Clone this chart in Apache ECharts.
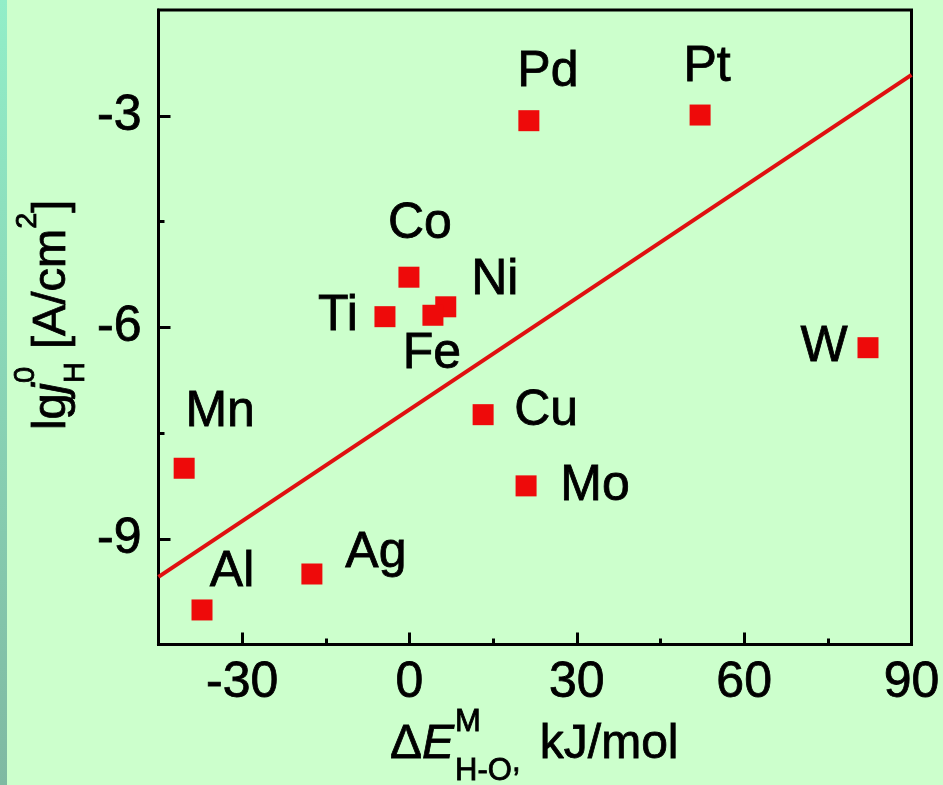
<!DOCTYPE html>
<html>
<head>
<meta charset="utf-8">
<script src="https://cdn.jsdelivr.net/npm/echarts@6/dist/echarts.min.js"></script>
<style>
html,body{margin:0;padding:0;background:#ccffcc;}
#chart{width:943px;height:785px;}
</style>
</head>
<body>
<div id="chart"></div>
<script>
// ---- data ----
const elements = ['Pd', 'Pt', 'Co', 'Ni', 'Fe', 'Ti', 'Cu', 'Mo', 'W', 'Mn', 'Al', 'Ag'];
const deltaE = [21.4, 52.1, -0.1, 6.5, 4.2, -4.4, 13.2, 20.9, 82.2, -40.4, -37.2, -17.5];
const lgJ = [-3.07, -2.99, -5.29, -5.71, -5.83, -5.85, -7.24, -8.25, -6.29, -8.0, -10.01, -9.5];
const fitX = [-45, 90];
const fitY = [-9.54, -2.42];
const xTickLabels = [-30, 0, 30, 60, 90];
const xMajorTicks = [-30, 0, 30, 60];
const xMinorTicks = [-15, 15, 45, 75];
const yTickLabels = [-3, -6, -9];
const yMinorTicks = [-4.5, -7.5];

// ---- style (label placement relative to marker) ----
const labelOffsets = {
  Pd: [19, -48], Pt: [7, -48], Co: [11, -53], Ni: [49, -27], Fe: [-1, 39], Ti: [-47, 0],
  Cu: [63, -3], Mo: [69, 0], W: [-44, 0], Mn: [36, -56], Al: [30, -38], Ag: [64, -21]
};
const FONT = "'Liberation Sans', Arial, sans-serif";
const BIG = 50;
const TB = { textBorderColor: '#000', textBorderWidth: 0.8 };

const chart = echarts.init(document.getElementById('chart'));

const measureCtx = document.createElement('canvas').getContext('2d');
function tw(text, size, italic) {
  measureCtx.font = (italic ? 'italic ' : '') + size + 'px ' + FONT;
  return measureCtx.measureText(text).width;
}

function txt(text, size, italic, x, y) {
  return { type: 'text', x: x, y: y, style: { text: text, font: (italic ? 'italic ' : '') + size + 'px ' + FONT, fill: '#000', stroke: '#000', lineWidth: 0.8, verticalAlign: 'middle', align: 'left' } };
}

// y-axis title: lg j_H^0 [A/cm^2], rotated, laid out along local x
function buildYTitle() {
  const s = 47, ss = 29;
  const children = [];
  let x = 0;
  function add(text, size, italic, dy) {
    children.push(txt(text, size, italic, x, dy));
    return tw(text, size, italic);
  }
  x += add('lg', s, false, 0);
  x += add('j', s, true, 0);
  const w0 = add('0', ss, false, -26);
  const wH = add('H', ss, false, 24);
  x += Math.max(w0, wH);
  x += add(' [A/cm', s, false, 0);
  x += add('2', ss, false, -24);
  x += add(']', s, false, 0);
  return { type: 'group', x: 52, y: 430, rotation: Math.PI / 2, children: children };
}

function buildXTitle() {
  const s = 48, ss = 31;
  const els = [];
  let x = 390;
  function add(text, size, italic, y, xx) {
    els.push(txt(text, size, italic, xx, y));
    return tw(text, size, italic);
  }
  x += add('\u0394', s, false, 745, x);
  x += add('E', s, true, 745, x);
  const wM = add('M', ss, false, 722, x + 1);
  const wS = add('H-O', ss, false, 771, x + 1);
  x += Math.max(wM, wS) + 1;
  x += add(',', ss, false, 762, x);
  add(' kJ/mol', s, false, 745, x + 6);
  return els;
}

const scatterData = elements.map((n, i) => ({
  name: n,
  value: [deltaE[i], lgJ[i]],
  label: { offset: labelOffsets[n] }
}));

const axisLineStyle = { color: '#000', width: 3 };

const option = {
  backgroundColor: '#ccffcc',
  animation: false,
  grid: { left: 158.5, right: 31.5, top: 10, bottom: 140.5, show: true, borderColor: '#000', borderWidth: 3, backgroundColor: 'transparent' },
  xAxis: [
    {
      type: 'value', min: -45, max: 90, interval: 15, position: 'bottom',
      axisLine: { show: true, onZero: false, lineStyle: axisLineStyle },
      axisTick: { show: true, inside: true, length: 12, customValues: xMajorTicks, lineStyle: { color: '#000', width: 3 } },
      axisLabel: Object.assign({ show: true, customValues: xTickLabels, fontSize: BIG, fontFamily: FONT, color: '#000', margin: 14 }, TB),
      splitLine: { show: false }
    },
    {
      type: 'value', min: -45, max: 90, interval: 15, position: 'bottom',
      axisLine: { show: false, onZero: false },
      axisTick: { show: true, inside: true, length: 6, customValues: xMinorTicks, lineStyle: { color: '#000', width: 3 } },
      axisLabel: { show: false },
      splitLine: { show: false }
    }
  ],
  yAxis: [
    {
      type: 'value', min: -10.5, max: -1.5, interval: 1.5, position: 'left',
      axisLine: { show: true, onZero: false, lineStyle: axisLineStyle },
      axisTick: { show: true, inside: true, length: 12, customValues: yTickLabels, lineStyle: { color: '#000', width: 3 } },
      axisLabel: Object.assign({ show: true, customValues: yTickLabels, fontSize: BIG, fontFamily: FONT, color: '#000', margin: 17 }, TB),
      splitLine: { show: false }
    },
    {
      type: 'value', min: -10.5, max: -1.5, interval: 1.5, position: 'left',
      axisLine: { show: false, onZero: false },
      axisTick: { show: true, inside: true, length: 6, customValues: yMinorTicks, lineStyle: { color: '#000', width: 3 } },
      axisLabel: { show: false },
      splitLine: { show: false }
    }
  ],
  series: [
    {
      type: 'line',
      data: fitX.map((x, i) => [x, fitY[i]]),
      showSymbol: false,
      lineStyle: { color: '#e01010', width: 4 },
      z: 2
    },
    {
      type: 'scatter',
      data: scatterData,
      symbol: 'rect',
      symbolSize: 21,
      itemStyle: { color: '#ee0a0a', opacity: 1 },
      label: Object.assign({ show: true, position: 'inside', formatter: '{b}', fontSize: BIG, fontFamily: FONT, color: '#000' }, TB),
      z: 3
    }
  ],
  graphic: [
    { type: 'rect', left: 0, top: 0, shape: { width: 7, height: 785 }, style: { fill: new echarts.graphic.LinearGradient(0, 0, 0, 1, [{ offset: 0, color: '#92eec8' }, { offset: 1, color: '#7fb9a2' }]) } },
    buildYTitle()
  ].concat(buildXTitle())
};

chart.setOption(option);
</script>
</body>
</html>
